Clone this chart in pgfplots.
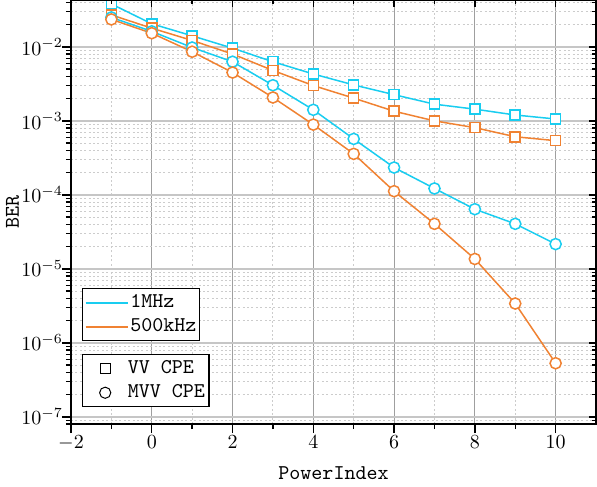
\documentclass[border=0pt]{standalone}
\usepackage{pgfplots}
\pgfplotsset{compat=1.18}
\definecolor{cy}{RGB}{25,205,240}
\definecolor{og}{RGB}{240,130,50}
\newcommand{\lfont}{\ttfamily\fontsize{10.5}{12.5}\selectfont}
\begin{document}
\begin{tikzpicture}
\begin{axis}[ymode=log,
  width=262.5pt, height=212pt, scale only axis,
  xmin=-2, xmax=11, ymin=8e-8, ymax=0.043,
  xtick={-2,0,...,10}, minor x tick num=1,
  grid=both,
  major x grid style={gray!75, line width=0.5pt},
  major y grid style={gray!45, line width=0.8pt},
  minor grid style={gray!40, dash pattern=on 1pt off 1.2pt, line width=0.45pt},
  xtick pos=left, ytick pos=left, tick align=outside,
  major tick length=4.5pt, minor tick length=2.5pt,
  axis line style={line width=0.9pt},
  tick style={black, line width=0.7pt},
  tick label style={font=\fontsize{10}{12}\selectfont},
  yticklabel shift=-4pt,
  xticklabel shift=-2pt,
  xlabel={\lfont PowerIndex},
  ylabel={\lfont BER},
  every axis x label/.style={at={(axis description cs:0.5,-0.1156)}, anchor=center},
  every axis y label/.style={at={(axis description cs:-0.1114,0.5)}, anchor=center, rotate=90},
  legend style={at={(0.021,0.3208)}, anchor=north west, draw=black, line width=0.6pt,
    font=\lfont, inner sep=1pt, row sep=0pt, nodes={inner xsep=0.5pt}},
  legend cell align=left,
  legend image code/.code={\draw[#1, line width=1pt] (-0.05cm,0cm) -- (0.7cm,0cm);},
  every axis plot/.append style={line width=0.75pt, mark options={solid, fill=white, line width=0.75pt}},
]
\coordinate (SW) at (rel axis cs:0,0);
\coordinate (NE) at (rel axis cs:1,1);
% 1MHz VV CPE
\addplot[cy, mark=square*, mark size=2.5pt, forget plot] coordinates {
(-1,0.038) (0,0.0205) (1,0.0141) (2,0.0096) (3,0.0063) (4,0.0043) (5,0.00306) (6,0.00226) (7,0.00168) (8,0.00144) (9,0.0012) (10,0.00106)};
% 500kHz VV CPE
\addplot[og, mark=square*, mark size=2.5pt, forget plot] coordinates {
(-1,0.027) (0,0.0179) (1,0.0122) (2,0.0080) (3,0.0048) (4,0.0030) (5,0.00203) (6,0.00135) (7,0.0010) (8,0.00081) (9,0.00061) (10,0.00054)};
% 1MHz MVV CPE
\addplot[cy, mark=*, mark size=2.8pt, forget plot] coordinates {
(-1,0.025) (0,0.0162) (1,0.0098) (2,0.0063) (3,0.00303) (4,0.00141) (5,0.00057) (6,0.000234) (7,0.000122) (8,6.4e-5) (9,4.06e-5) (10,2.16e-5)};
% 500kHz MVV CPE
\addplot[og, mark=*, mark size=2.8pt, forget plot] coordinates {
(-1,0.0235) (0,0.0153) (1,0.0086) (2,0.0045) (3,0.00207) (4,0.00089) (5,0.000358) (6,0.000112) (7,4.06e-5) (8,1.36e-5) (9,3.4e-6) (10,5.3e-7)};
\addlegendimage{cy}
\addlegendentry{1MHz}
\addlegendimage{og}
\addlegendentry{500kHz}
\end{axis}
\begin{pgfinterruptboundingbox}
\begin{axis}[ymode=log,
  width=262.5pt, height=212pt, scale only axis,
  xmin=-2, xmax=11, ymin=8e-8, ymax=0.043,
  xtick={-2,0,...,10}, minor x tick num=1,
  xticklabels={}, yticklabels={},
  xtick pos=right, ytick pos=right, tick align=inside,
  major tick length=3.5pt, minor tick length=2pt,
  tick style={black, line width=0.7pt},
  axis line style={line width=0.9pt},
  legend style={at={(0.021,0.165)}, anchor=north west, draw=black, line width=0.6pt,
    font=\lfont, inner sep=1pt, row sep=0pt, nodes={inner xsep=1pt}},
  legend cell align=left,
  legend image code/.code={\draw[#1, sharp plot, draw=white, line width=0.1pt, mark indices={2}, mark options={draw=black, fill=none, line width=0.5pt}] plot coordinates {(0cm,0cm) (0.36cm,0cm) (0.72cm,0cm)};},
]
\addlegendimage{mark=square, mark size=2.5pt, black}
\addlegendentry{VV CPE}
\addlegendimage{mark=o, mark size=2.8pt, black}
\addlegendentry{MVV CPE}
\end{axis}
\end{pgfinterruptboundingbox}
\pgfresetboundingbox
\path ([xshift=-35.5pt,yshift=-31pt]SW) rectangle ([xshift=0.5pt]NE);
\end{tikzpicture}
\end{document}
